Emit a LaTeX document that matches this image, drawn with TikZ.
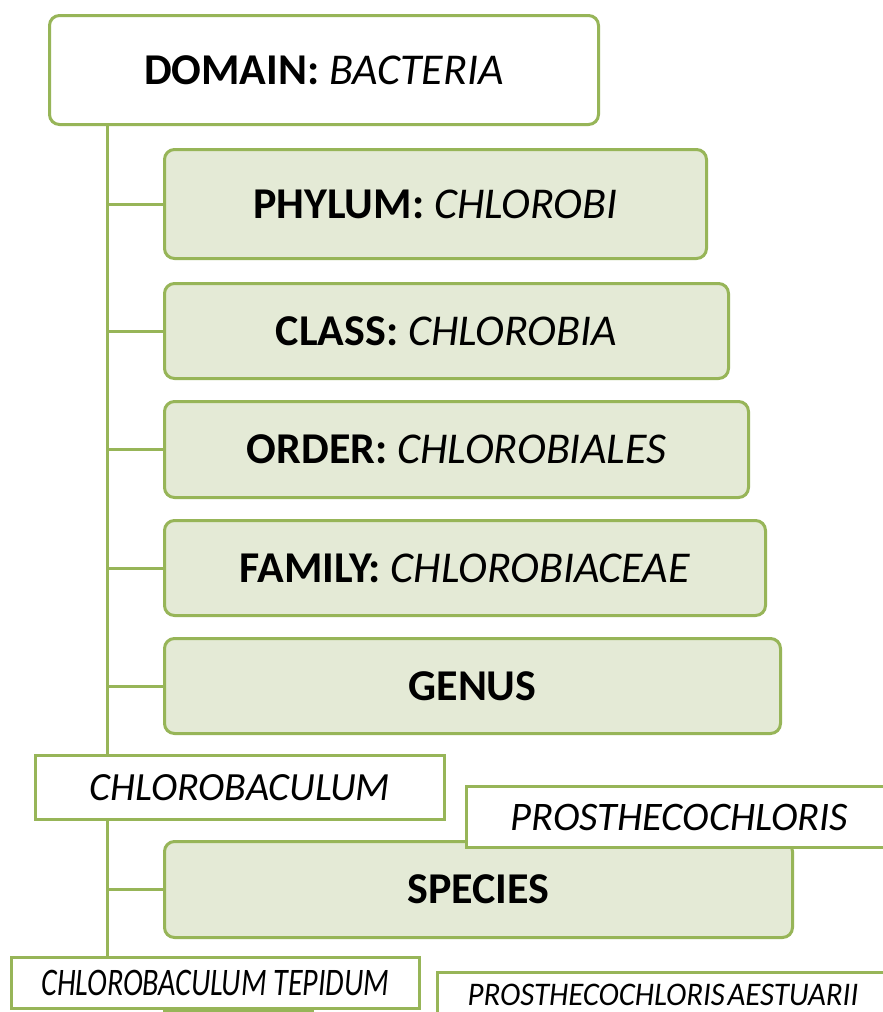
\documentclass[tikz,border=0pt]{standalone}
\usepackage{fontspec}
\setmainfont{Carlito}
\usepackage{graphicx}
\usetikzlibrary{backgrounds}
\definecolor{gborder}{HTML}{97B558}
\definecolor{gfill}{HTML}{E4EAD6}
\tikzset{
  rankbox/.style={draw=gborder, line width=3pt, fill=gfill, rounded corners=10pt, anchor=north west, inner sep=0pt, font=\fontsize{44}{48}\selectfont},
  topbox/.style={rankbox, fill=white},
  namebox/.style={draw=gborder, line width=3pt, fill=white, anchor=north west, inner sep=0pt, font=\fontsize{40}{44}\selectfont\itshape},
  smallname/.style={namebox, font=\fontsize{39}{42}\selectfont\itshape},
  tinyname/.style={namebox, font=\fontsize{33}{36}\selectfont\itshape},
  trunk/.style={draw=gborder, line width=3pt}
}
\begin{document}
\begin{tikzpicture}[x=1pt,y=-1pt]
\useasboundingbox (0,0) rectangle (883,1012);
\clip (0,0) rectangle (883,1012);
% nodes
\node[topbox, minimum width=549pt, minimum height=109pt] (domain) at (48,14) {\textbf{DOMAIN:} \textit{BACTERIA}};
\node[rankbox, minimum width=542pt, minimum height=109pt] (phylum) at (163,148) {\textbf{PHYLUM:} \textit{CHLOROBI}};
\node[rankbox, minimum width=564pt, minimum height=95pt] (class) at (163,282) {\textbf{CLASS:} \textit{CHLOROBIA}};
\node[rankbox, minimum width=584pt, minimum height=96pt] (order) at (163,400) {\textbf{ORDER:} \textit{CHLOROBIALES}};
\node[rankbox, minimum width=601pt, minimum height=95pt] (family) at (163,519) {\textbf{FAMILY:} \textit{CHLOROBIACEAE}};
\node[rankbox, minimum width=616pt, minimum height=95pt] (genus) at (163,637) {\textbf{GENUS}};
\node[rankbox, minimum width=628pt, minimum height=96pt] (species) at (163,840) {\textbf{SPECIES}};
\node[namebox, minimum width=409pt, minimum height=64pt] (chlorobaculum) at (34,754) {CHLOROBACULUM};
\node[namebox, minimum width=440pt, minimum height=61pt, font=\fontsize{40.5}{44}\selectfont\itshape] (prostheco) at (465,785) {\hspace*{-14pt}PROSTHECOCHLORIS};
\node[smallname, minimum width=408pt, minimum height=51pt] (tepidum) at (10,956) {\scalebox{0.77}[1]{CHLOROBACULUM TEPIDUM}};
\node[tinyname, minimum width=470pt, minimum height=44pt] (aestuarii) at (436,971) {\hspace*{-19pt}\scalebox{0.935}[1]{PROSTHECOCHLORIS\hspace{3pt}AESTUARII}};
% partly hidden box below
\fill[gborder] (163,1007) rectangle (314,1013);
% connectors (behind boxes)
\begin{scope}[on background layer]
\fill[white] (0,0) rectangle (883,1012);
\coordinate (t0) at (107,0);
\draw[trunk] (domain.south -| t0) -- (tepidum.north -| t0);
\foreach \n in {phylum,class,order,family,genus,species}{
  \draw[trunk] (\n.west -| t0) -- (\n.west);
}
\end{scope}
\end{tikzpicture}
\end{document}
